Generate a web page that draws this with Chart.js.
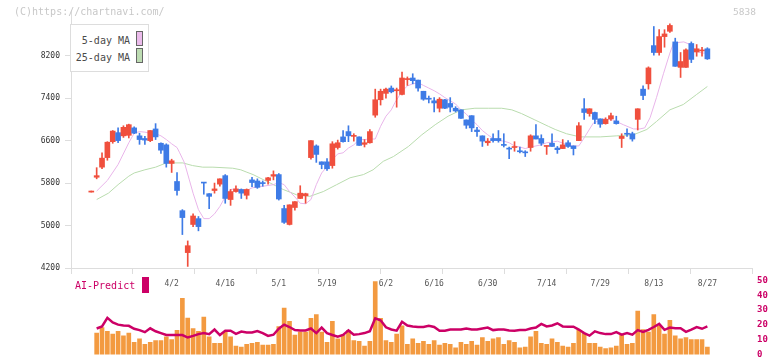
<!DOCTYPE html>
<html>
<head>
<meta charset="utf-8">
<script src="https://cdn.jsdelivr.net/npm/chart.js@4/dist/chart.umd.min.js"></script>
<style>
  html, body { margin: 0; padding: 0; background: #fff; }
  #wrap { position: relative; width: 772px; height: 361px; overflow: hidden; font-family: "DejaVu Sans Mono", monospace; }
  #priceChart { position: absolute; left: 0; top: 0; }
  #volChart { position: absolute; left: 0; top: 270px; }
  .wm { position: absolute; top: 6px; font-size: 10px; color: #c8c8c8; line-height: 12px; }
  #legend { position: absolute; left: 70px; top: 24px; width: 77px; height: 46px; border: 1px solid #ddd; background: #fff; }
  .lg-text { position: absolute; right: 18px; font-size: 10px; color: #4a4a4a; line-height: 12px; }
  .lg-box { position: absolute; left: 65px; width: 5px; height: 13px; border: 1px solid #666; }
  #ai { position: absolute; left: 75px; top: 280px; font-size: 10px; color: #cc0066; line-height: 12px; }
  #aiBox { position: absolute; left: 142px; top: 277px; width: 7px; height: 16px; background: #cc0066; }
</style>
</head>
<body>
<div id="wrap">
  <canvas id="priceChart" width="772" height="300"></canvas>
  <canvas id="volChart" width="772" height="95"></canvas>
  <div class="wm" style="left:14px">(C)https://chartnavi.com/</div>
  <div class="wm" style="left:733px;font-size:9.5px">5838</div>
  <div id="legend">
    <div class="lg-text" style="top:10px">5-day MA</div>
    <div class="lg-box" style="top:6px;background:#ebbbeb"></div>
    <div class="lg-text" style="top:27px">25-day MA</div>
    <div class="lg-box" style="top:23px;background:#bddcb2"></div>
  </div>
  <div id="ai">AI-Predict</div>
  <div id="aiBox"></div>
</div>
<script>
// daily candles, index 1..116
const opens = [5630,5910,6100,6280,6580,6750,6690,6700,6840,6690,6640,6600,6820,6550,6520,6170,5830,5280,4490,5020,
  5130,5810,5600,5660,5780,5940,5490,5640,5680,5570,5860,5840,5800,5850,5930,5960,5320,5020,5340,5510,
  5560,6280,6500,6200,6200,6130,6470,6670,6770,6680,6670,6530,6560,7080,7370,7490,7590,7540,7470,7750,
  7780,7740,7530,7390,7350,7210,7370,7300,7210,7180,6990,7070,6800,6690,6560,6640,6640,6520,6450,6470,
  6400,6380,6470,6690,6640,6490,6550,6460,6450,6560,6500,6600,7200,7110,7130,7010,6920,7010,6970,6640,
  6730,6730,7000,7570,7670,8390,8260,8560,8660,8460,7980,7980,8430,8270,8290,8330];
const highs = [5650,6090,6370,6580,6790,6840,6880,6910,6860,6740,6680,6790,6920,6560,6540,6250,6000,5300,4710,5220,
  5170,5810,5600,5800,5880,5960,5680,5750,5690,5690,5910,5880,5840,5910,6030,5980,5380,5390,5450,5750,
  5610,6600,6520,6200,6260,6580,6610,6790,6880,6730,6670,6620,6810,7570,7570,7590,7630,7590,7890,7800,
  7860,7740,7530,7440,7410,7410,7380,7410,7240,7180,6990,7070,6850,6690,6640,6730,6790,6730,6480,6580,
  6480,6410,6710,6900,6710,6500,6730,6490,6620,6600,6500,6940,7390,7200,7140,7010,7030,7120,7060,6730,
  6820,6760,7200,7630,7990,8750,8690,8690,8800,8530,8260,8330,8460,8410,8360,8350];
const lows = [5630,5880,6070,6230,6550,6560,6660,6650,6730,6530,6530,6580,6620,6360,6100,6000,5570,4830,4230,4980,
  4900,5590,5320,5610,5740,5420,5380,5630,5510,5500,5730,5700,5740,5780,5860,5480,5040,5010,5290,5510,
  5420,6250,6190,6070,6040,6080,6440,6570,6580,6590,6510,6480,6550,7040,7270,7400,7500,7230,7460,7640,
  7670,7530,7360,7310,7140,7140,7200,7140,7140,7020,6830,6770,6680,6490,6510,6570,6570,6480,6260,6400,
  6370,6300,6400,6630,6510,6340,6490,6360,6450,6470,6330,6600,7000,7060,6920,6850,6910,6980,6910,6470,
  6680,6590,6800,7370,7570,8210,8210,8360,8640,8000,7790,7980,8070,8190,8190,8130];
const closes = [5650,5940,6270,6570,6780,6600,6850,6900,6740,6620,6610,6790,6670,6420,6170,6220,5660,5150,4620,5180,
  4980,5800,5550,5690,5880,5510,5640,5690,5610,5680,5810,5720,5790,5900,5960,5500,5060,5390,5450,5610,
  5600,6600,6340,6150,6070,6540,6560,6580,6690,6690,6510,6560,6770,7370,7530,7570,7520,7550,7780,7760,
  7730,7590,7380,7380,7310,7380,7210,7230,7160,7020,6890,6840,6770,6590,6590,6600,6600,6510,6440,6480,
  6390,6370,6690,6630,6550,6500,6490,6430,6520,6490,6450,6880,7130,7200,7000,6910,7000,7070,6920,6680,
  6720,6630,7200,7450,7970,8260,8560,8610,8770,8000,8090,8310,8130,8330,8300,8140];

// moving averages: candle index and value
const ma5Idx = [2,4,6,8,9,10,11,12,13,14,15,16,17,17.5,18.4,19.3,20,21,22,23,24,25,26,27,28,29,30,31,33,35,36,37,38,39,40,41,42,43,44,45,46,47,48,49,50,51,52,53,54,55,56,57,57.7,59,60,61,62,63,64,65,66,67,68,69,70,71,72,73,74,75,76,77,78,79,80,81,82,83,84,85,86,87,88,90.4,92,92.8,94.7,96.6,98.4,100.3,102.2,103.4,104.3,105.3,106.5,107.8,109,109.7,111.6,112.8,114,115,116];
const ma5Val = [5650,5850,6150,6560,6740,6770,6760,6740,6730,6690,6620,6540,6470,6370,6180,5860,5610,5300,5130,5130,5220,5360,5540,5680,5690,5660,5660,5710,5740,5770,5810,5770,5640,5540,5420,5410,5490,5770,5990,6110,6240,6350,6370,6460,6520,6620,6620,6630,6630,6870,7060,7180,7320,7530,7630,7670,7690,7640,7590,7540,7480,7410,7350,7290,7180,7100,6990,6900,6790,6710,6640,6600,6590,6560,6500,6480,6450,6480,6500,6520,6560,6570,6590,6500,6500,6620,6930,7010,6990,6900,6820,6820,6840,7030,7410,7860,8250,8440,8460,8410,8280,8250,8250];
const ma25Idx = [2,4.2,6,8,9,11,13,15,18.1,19.9,21.8,23.7,27.4,28.9,29.9,31.2,34.4,36.8,39.3,41.8,44.3,46.8,49.3,51.8,53.6,55.5,57.4,60.2,62.7,65.2,67.6,70.1,72.6,75.1,77.6,79.5,81.3,83.8,86.3,87.6,89.7,92.2,96,99.1,102.2,104.7,106.5,109,111.5,114,116];
const ma25Val = [5490,5610,5770,5930,5990,6050,6100,6180,6180,6130,6100,6100,6080,6050,6010,5960,5800,5680,5580,5550,5640,5770,5900,5960,6050,6210,6300,6490,6710,6900,7060,7180,7210,7210,7210,7180,7110,6990,6870,6810,6730,6670,6670,6690,6710,6810,6960,7180,7280,7470,7620];

// lower panel, candle 2..116
const volume = [14.5,18.2,15.7,13.8,15.7,12.6,14.5,8.3,10.7,7.0,8.3,9.5,9.5,12.0,10.1,16.3,38.0,24.6,17.6,15.7,
  25.2,12.0,7.6,7.6,15.1,12.0,5.8,5.1,7.0,7.6,8.3,6.4,6.4,7.0,18.8,31.4,22.5,13.2,15.1,15.1,
  24.4,26.9,15.1,8.3,22.5,10.7,13.2,16.3,9.5,8.9,5.8,8.9,49.2,24.4,9.5,8.3,13.8,19.4,7.0,10.7,
  7.6,8.9,7.0,9.5,6.4,7.6,7.0,4.5,8.3,7.0,8.9,6.4,11.4,8.9,10.7,11.4,7.0,9.5,8.3,4.5,
  5.1,12.0,15.7,7.6,7.0,10.7,8.3,5.8,5.1,7.6,16.3,14.3,7.6,7.6,5.1,4.1,4.5,5.8,13.2,7.0,
  7.6,29.4,16.9,15.1,26.9,19.4,13.8,23.1,12.6,10.7,11.4,10.1,10.1,10.1,5.1];
const aiPredict = [17.6,19.0,24.8,21.7,20.2,19.6,19.4,17.4,16.5,15.1,17.7,15.7,14.5,13.2,13.2,13.2,13.2,11.5,12.6,13.8,
  14.5,13.8,16.9,13.2,16.1,16.1,14.0,15.5,14.9,14.9,15.9,14.5,12.6,13.4,17.4,20.2,18.6,16.5,16.3,16.3,
  17.6,14.5,18.2,14.5,13.2,12.0,13.2,16.3,13.4,13.8,14.5,15.7,24.4,23.1,18.4,16.9,16.1,22.1,19.6,19.0,
  18.6,18.6,19.4,18.6,16.1,16.1,16.9,16.9,16.9,17.6,16.9,16.9,17.6,18.2,16.5,16.9,16.9,16.3,16.1,16.5,
  16.5,17.6,18.2,20.7,19.0,19.6,21.1,19.0,18.8,18.8,16.9,14.5,12.8,15.7,14.5,13.8,13.8,15.1,13.4,14.5,
  13.4,16.5,15.3,16.7,18.6,20.7,16.7,18.2,17.7,17.7,15.3,16.9,18.6,17.4,19.0];

const xLabels = ['4/2','4/16','5/1','5/19','6/2','6/16','6/30','7/14','7/29','8/13','8/27'];
const xLabelIdx = [16,26,36,45,56,65,75,86,96,106,116];
const yTicks = [4200,5000,5800,6600,7400,8200];
const aiTicks = [0,10,20,30,40,50];

const X_MIN = -2.79, X_MAX = 124.33;
const UP = '#f04f3d', DOWN = '#3e7be6';
const monoFont = "'DejaVu Sans Mono', monospace";

const candleColors = closes.map((c, i) => c >= opens[i] ? UP : DOWN);
const wickData = highs.map((h, i) => ({ x: i + 1, y: [lows[i], h] }));
const bodyData = opens.map((o, i) => ({ x: i + 1, y: [Math.min(o, closes[i]), Math.max(o, closes[i])] }));
const ma5Data = ma5Idx.map((x, i) => ({ x: x, y: ma5Val[i] }));
const ma25Data = ma25Idx.map((x, i) => ({ x: x, y: ma25Val[i] }));

new Chart(document.getElementById('priceChart'), {
  type: 'bar',
  data: {
    datasets: [
      { type: 'line', data: ma25Data, borderColor: '#b9dcae', borderWidth: 1, pointRadius: 0, order: 4 },
      { type: 'line', data: ma5Data, borderColor: '#e9b5ea', borderWidth: 1, pointRadius: 0, order: 3 },
      { data: wickData, backgroundColor: candleColors, barThickness: 1, grouped: false, order: 2 },
      { data: bodyData, backgroundColor: candleColors, barThickness: 5, minBarLength: 1, grouped: false, order: 1 }
    ]
  },
  options: {
    responsive: false,
    animation: false,
    layout: { padding: { top: 10, right: 20, left: 0, bottom: 0 } },
    plugins: { legend: { display: false }, tooltip: { enabled: false } },
    scales: {
      x: {
        type: 'linear', min: X_MIN, max: X_MAX, offset: false, position: 'bottom', weight: 0,
        afterBuildTicks: (s) => {
          const step = (X_MAX - X_MIN) / 11;
          s.ticks = Array.from({ length: 12 }, (_, k) => ({ value: X_MIN + k * step }));
        },
        afterFit: (s) => { s.height = 7; },
        ticks: { display: false },
        grid: { drawOnChartArea: false, offset: false, tickLength: 6, color: '#dddddd' },
        border: { color: '#dddddd' }
      },
      xl: {
        type: 'linear', min: X_MIN, max: X_MAX, offset: false, position: 'bottom', weight: 1,
        afterBuildTicks: (s) => { s.ticks = xLabelIdx.map(v => ({ value: v })); },
        afterFit: (s) => { s.height = 25; },
        ticks: {
          autoSkip: false, maxRotation: 0, padding: 4, color: '#555',
          font: { family: monoFont, size: 8 },
          callback: (v) => { const k = xLabelIdx.indexOf(v); return k >= 0 ? xLabels[k] : ''; }
        },
        grid: { display: false, drawTicks: false },
        border: { display: false }
      },
      y: {
        min: 4200, max: 9061,
        afterBuildTicks: (s) => { s.ticks = yTicks.map(v => ({ value: v })); },
        afterFit: (s) => { s.width = 71; },
        ticks: { color: '#333', padding: 5, font: { family: monoFont, size: 8 }, callback: (v) => String(v) },
        grid: { drawOnChartArea: false, tickLength: 6, color: '#dddddd' },
        border: { color: '#dddddd' }
      }
    }
  }
});

new Chart(document.getElementById('volChart'), {
  type: 'bar',
  data: {
    datasets: [
      { type: 'line', data: aiPredict.map((v, i) => ({ x: i + 2, y: v })), borderColor: '#cc0066', borderWidth: 2.5, pointRadius: 0, order: 1 },
      { data: volume.map((v, i) => ({ x: i + 2, y: v })), backgroundColor: '#f39a40', barThickness: 4, grouped: false, order: 2 }
    ]
  },
  options: {
    responsive: false,
    animation: false,
    layout: { padding: { top: 6, right: 0, left: 71, bottom: 1.3 } },
    plugins: { legend: { display: false }, tooltip: { enabled: false } },
    scales: {
      x: { type: 'linear', min: X_MIN, max: X_MAX, offset: false, display: false },
      y: {
        position: 'right', min: 0, max: 50,
        afterBuildTicks: (s) => { s.ticks = aiTicks.map(v => ({ value: v })); },
        afterFit: (s) => { s.width = 20; },
        ticks: { color: '#cc0066', padding: 5, font: { family: monoFont, size: 9, weight: 'bold' }, callback: (v) => String(v) },
        grid: { display: false, drawTicks: false },
        border: { display: false }
      }
    }
  }
});
</script>
</body>
</html>
